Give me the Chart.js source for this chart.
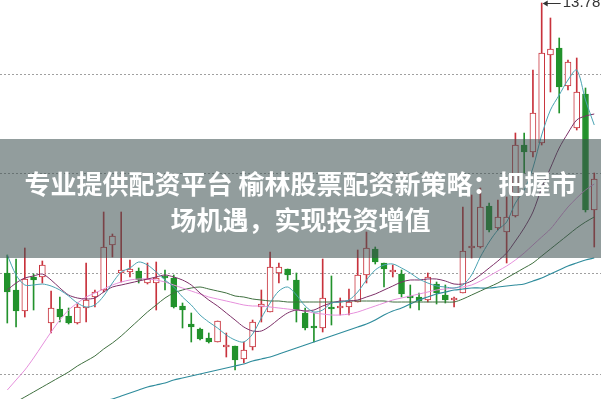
<!DOCTYPE html>
<html>
<head>
<meta charset="utf-8">
<script src="https://cdn.jsdelivr.net/npm/chart.js@4.4.1/dist/chart.umd.min.js"></script>
<style>
  html, body { margin: 0; padding: 0; background: #fff; }
  .wrap { position: relative; width: 601px; height: 399px; overflow: hidden; }
  .banner {
    position: absolute; left: 0; top: 139px; width: 601px; height: 119px;
    background: rgba(60, 80, 80, 0.56);
    color: #fff; text-align: center;
    font-family: "Noto Sans CJK SC", sans-serif; font-weight: bold;
    font-size: 26px; line-height: 36px;
    box-sizing: border-box; padding-top: 26px;
    white-space: nowrap;
  }
</style>
</head>
<body>
<div class="wrap">
  <canvas id="kline"></canvas>
  <div class="banner">专业提供配资平台 榆林股票配资新策略：把握市<br>场机遇，实现投资增值</div>
</div>
<script>
// daily candles
const openP  = [11.08,10.91,10.70,11.04,11.04,10.58,10.72,10.65,10.58,10.73,10.84,10.91,11.36,11.08,11.09,11.10,10.98,10.98,11.05,11.03,
                10.75,10.57,10.52,10.43,10.39,10.34,10.35,10.22,10.34,10.74,10.69,11.08,11.12,11.01,10.68,10.55,10.53,10.74,10.73,10.74,
                10.79,11.06,11.32,11.18,11.09,11.07,10.85,10.84,10.81,10.97,10.86,10.81,10.88,11.33,11.34,11.75,11.53,11.49,11.65,12.36,
                12.29,12.38,13.26,13.33,12.95,12.53,12.87,11.71];
const highP  = [11.26,11.22,11.33,11.07,11.20,10.90,10.84,10.73,10.77,11.18,10.91,11.69,11.47,11.69,11.21,11.13,11.18,11.19,11.11,11.06,
                10.78,10.68,10.53,10.48,10.60,10.48,10.35,10.39,10.61,10.91,11.29,11.18,11.12,11.08,10.73,10.68,11.22,11.05,10.83,10.92,
                11.31,11.49,11.34,11.18,11.16,11.11,10.96,10.88,11.08,10.99,10.96,10.84,11.74,11.86,11.93,11.78,11.81,11.84,12.48,12.48,
                13.11,13.78,13.63,13.43,13.21,13.23,12.93,12.08];
const lowP   = [10.58,10.54,10.64,10.71,10.98,10.48,10.59,10.57,10.57,10.59,10.74,10.89,11.24,10.99,11.04,10.98,10.97,10.71,10.91,10.73,
                10.53,10.39,10.41,10.38,10.39,10.24,10.11,10.18,10.31,10.59,10.69,10.98,11.01,10.59,10.51,10.39,10.49,10.56,10.66,10.66,
                10.79,10.98,11.17,10.94,11.04,10.84,10.73,10.71,10.79,10.77,10.78,10.74,10.88,11.23,11.33,11.49,11.51,11.18,11.64,12.08,
                12.24,12.36,12.89,12.68,12.91,12.51,11.69,11.34];
const closeP = [10.89,10.70,11.02,11.01,11.16,10.73,10.64,10.58,10.74,10.81,10.89,11.34,11.45,11.11,11.12,11.01,11.02,11.03,11.03,10.74,
                10.71,10.54,10.42,10.39,10.60,10.36,10.21,10.31,10.59,10.77,11.14,11.14,11.06,10.71,10.53,10.53,10.83,10.72,10.75,10.79,
                11.06,11.33,11.19,11.12,11.11,10.87,10.83,10.80,11.04,10.88,10.81,10.83,11.30,11.35,11.74,11.51,11.64,11.64,12.36,12.29,
                12.68,13.28,13.32,12.94,13.19,12.89,11.71,12.02];

// moving average lines
const ma5  = [11.26,11.06,10.96,10.96,10.97,10.95,10.91,10.85,10.78,10.74,10.76,10.85,10.98,11.09,11.13,11.19,11.16,11.09,11.01,10.94,
              10.84,10.76,10.66,10.59,10.53,10.46,10.41,10.39,10.47,10.63,10.78,10.90,10.94,10.86,10.75,10.69,10.71,10.78,10.79,10.81,
              10.89,11.01,11.11,11.16,11.17,11.13,11.08,11.02,10.98,10.95,10.94,10.93,10.96,11.06,11.24,11.39,11.51,11.59,11.78,11.91,
              12.13,12.46,12.71,12.86,13.01,13.11,12.81,12.56];
const ma10 = [10.91,10.98,11.03,11.05,11.07,11.01,10.93,10.86,10.83,10.82,10.83,10.89,10.94,10.96,10.98,11.00,11.02,11.04,11.06,11.04,
              11.01,10.96,10.88,10.81,10.75,10.68,10.61,10.54,10.50,10.50,10.55,10.62,10.68,10.71,10.70,10.71,10.75,10.78,10.80,10.80,
              10.81,10.84,10.87,10.91,10.95,10.99,11.01,11.01,11.02,11.02,11.00,10.97,10.97,11.00,11.06,11.13,11.20,11.28,11.40,11.53,
              11.69,11.93,12.13,12.33,12.48,12.61,12.65,12.67];
const ma20 = [9.91,10.01,10.11,10.23,10.36,10.49,10.61,10.71,10.78,10.84,10.88,10.92,10.96,10.99,11.01,11.02,11.02,11.01,10.99,10.96,
              10.93,10.90,10.87,10.84,10.82,10.80,10.78,10.76,10.75,10.75,10.74,10.73,10.72,10.71,10.70,10.68,10.67,10.66,10.66,10.67,
              10.69,10.72,10.75,10.78,10.81,10.83,10.85,10.87,10.89,10.91,10.92,10.93,10.94,10.96,11.00,11.05,11.10,11.15,11.21,11.28,
              11.36,11.44,11.52,11.63,11.74,11.83,11.91,11.97];
const ma30 = [9.73,9.79,9.84,9.89,9.94,9.99,10.04,10.09,10.15,10.20,10.25,10.32,10.38,10.45,10.53,10.61,10.69,10.76,10.83,10.88,
              10.91,10.93,10.94,10.92,10.90,10.88,10.85,10.84,10.82,10.81,10.80,10.80,10.79,10.79,10.79,10.79,10.79,10.79,10.79,10.80,
              10.80,10.80,10.80,10.80,10.79,10.79,10.79,10.79,10.79,10.79,10.79,10.79,10.82,10.86,10.90,10.94,10.98,11.03,11.08,11.13,
              11.18,11.25,11.32,11.39,11.46,11.53,11.59,11.64];
const ma60 = [9.49,9.53,9.56,9.60,9.63,9.66,9.68,9.70,9.72,9.74,9.77,9.80,9.82,9.85,9.88,9.91,9.94,9.96,9.98,10.01,
              10.03,10.05,10.07,10.09,10.11,10.13,10.15,10.17,10.20,10.22,10.24,10.27,10.30,10.33,10.36,10.39,10.42,10.45,10.48,10.51,
              10.54,10.57,10.61,10.66,10.70,10.73,10.77,10.81,10.84,10.87,10.89,10.91,10.92,10.93,10.93,10.93,10.94,10.95,10.96,10.97,
              11.00,11.03,11.07,11.11,11.15,11.18,11.21,11.23];

const gridTicks = [10.07, 11.08, 12.08, 13.07];
const peakIndex = 61;
const peakLabel = '13.78';

const upColor = '#c8323c';
const downColor = '#22922c';
const isUp = closeP.map((c, i) => c >= openP[i]);

const xy = arr => arr.map((v, i) => ({ x: i, y: v }));

// little arrow + text pointing at the highest price
const peakMarker = {
    id: 'peakMarker',
    afterDatasetsDraw(chart) {
        const { ctx, scales } = chart;
        const x = scales.x.getPixelForValue(peakIndex);
        const y = scales.y.getPixelForValue(highP[peakIndex]);
        ctx.save();
        ctx.strokeStyle = '#333';
        ctx.fillStyle = '#333';
        ctx.lineWidth = 1;
        ctx.beginPath();
        ctx.moveTo(x + 2, y + 0.5);
        ctx.lineTo(x + 19, y + 0.5);
        ctx.stroke();
        ctx.beginPath();
        ctx.moveTo(x + 1, y + 0.5);
        ctx.lineTo(x + 6, y - 2.5);
        ctx.lineTo(x + 6, y + 3.5);
        ctx.closePath();
        ctx.fill();
        ctx.font = '15px "Liberation Sans", Arial, sans-serif';
        ctx.textBaseline = 'alphabetic';
        ctx.fillText(peakLabel, x + 21, y + 4);
        ctx.restore();
    }
};

new Chart(document.getElementById('kline'), {
    type: 'bar',
    data: {
        datasets: [
            { type: 'line', data: xy(ma5),  borderColor: '#4aa3b3', borderWidth: 1, pointRadius: 0, tension: 0.3, order: 0 },
            { type: 'line', data: xy(ma10), borderColor: '#7d3068', borderWidth: 1, pointRadius: 0, tension: 0.3, order: 0 },
            { type: 'line', data: xy(ma20), borderColor: '#e690dc', borderWidth: 1, pointRadius: 0, tension: 0.3, order: 0 },
            { type: 'line', data: xy(ma30), borderColor: '#3f6f3f', borderWidth: 1, pointRadius: 0, tension: 0.3, order: 0 },
            { type: 'line', data: xy(ma60), borderColor: '#2f8c9c', borderWidth: 1.2, pointRadius: 0, tension: 0.3, order: 0 },
            {
                data: openP.map((o, i) => ({ x: i, y: [o, closeP[i]] })),
                backgroundColor: ctx => isUp[ctx.dataIndex] ? '#ffffff' : downColor,
                borderColor: ctx => isUp[ctx.dataIndex] ? upColor : downColor,
                borderWidth: 1,
                borderSkipped: false,
                barThickness: 6,
                grouped: false,
                order: 1
            },
            {
                data: lowP.map((l, i) => ({ x: i, y: [l, highP[i]] })),
                backgroundColor: ctx => isUp[ctx.dataIndex] ? upColor : downColor,
                borderWidth: 0,
                barThickness: 1,
                grouped: false,
                order: 2
            }
        ]
    },
    options: {
        responsive: true,
        maintainAspectRatio: false,
        animation: false,
        layout: { padding: 0, autoPadding: false },
        plugins: { legend: { display: false }, tooltip: { enabled: false } },
        scales: {
            x: { type: 'linear', min: -0.833, max: 67.77, offset: false, bounds: 'ticks', display: false },
            y: {
                min: 9.82,
                max: 13.81,
                afterBuildTicks: s => { s.ticks = gridTicks.map(v => ({ value: v })); },
                afterFit: s => { s.width = 0; },
                ticks: { display: false },
                grid: { color: '#a0a0a0', drawTicks: false },
                border: { display: false, dash: [2, 2] }
            }
        }
    },
    plugins: [peakMarker]
});
</script>
</body>
</html>
